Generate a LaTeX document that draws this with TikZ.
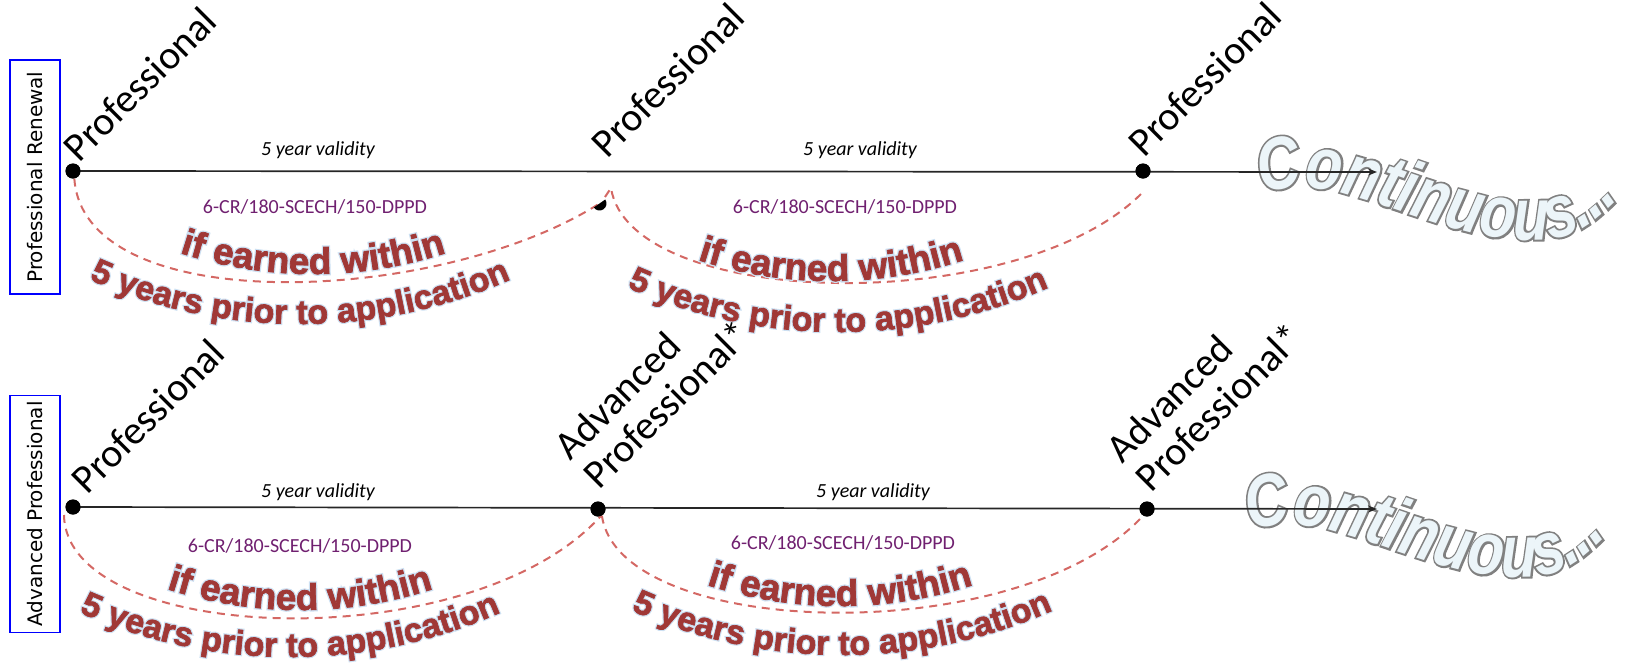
\documentclass[tikz,border=0pt]{standalone}
\usepackage{fontspec}
\setmainfont{Carlito}
\newfontfamily\boxfont{DejaVu Sans}
\newfontfamily\wafont[FakeBold=2]{Liberation Sans Bold}
\newfontfamily\waglow[FakeBold=9]{Liberation Sans Bold}
\newfontfamily\confont[FakeStretch=0.8]{Liberation Sans Bold Italic}
\newfontfamily\conout[FakeStretch=0.8,FakeBold=5]{Liberation Sans Bold Italic}
\usetikzlibrary{decorations.text,arrows.meta,calc}
\definecolor{wared}{RGB}{160,56,54}
\definecolor{glow}{RGB}{205,224,242}
\definecolor{dashred}{RGB}{212,104,100}
\definecolor{purp}{RGB}{112,32,112}
\definecolor{congray}{RGB}{128,128,128}
\definecolor{conlight}{RGB}{236,245,249}
% #1 x, #2 y of arc bottom, #3 radius, #4 half angle, #5 font size, #6 text
\newcommand\arctext[6]{%
  \path[decorate,decoration={text along path,text align=center,
    text={|\waglow\fontsize{#5}{40}\selectfont\color{glow}|#6}}]
    (#1,#2) ++(0,-#3) ++({90+#4}:#3) arc[start angle={90+#4},end angle={90-#4},radius=#3];
  \path[decorate,decoration={text along path,text align=center,
    text={|\wafont\fontsize{#5}{40}\selectfont\color{wared}|#6}}]
    (#1,#2) ++(0,-#3) ++({90+#4}:#3) arc[start angle={90+#4},end angle={90-#4},radius=#3];
}
\newcommand\conttext{%
  \path[decorate,decoration={text along path,
    text={|\conout\fontsize{74}{80}\selectfont\color{congray}|Continuous...}}]
    (1262,195) .. controls (1335,160) and (1445,254) .. (1555,238)
    .. controls (1592,232) and (1612,206) .. (1660,156);
  \path[decorate,decoration={text along path,
    text={|\confont\fontsize{74}{80}\selectfont\color{conlight}|Continuous...}}]
    (1262,195) .. controls (1335,160) and (1445,254) .. (1555,238)
    .. controls (1592,232) and (1612,206) .. (1660,156);
}
\begin{document}
\begin{tikzpicture}[x=1pt,y=-1pt,
  dotnode/.style={circle,fill=black,inner sep=0pt,minimum size=15pt},
  lbl/.style={rotate=45,anchor=south west,inner sep=0pt,font=\fontsize{40}{41}\selectfont,align=left},
  valid/.style={inner sep=0pt,font=\itshape\fontsize{20}{24}\selectfont},
  credit/.style={inner sep=0pt,text=purp,font=\fontsize{20}{24}\selectfont},
  dashc/.style={draw=dashred,line width=2pt,dash pattern=on 8pt off 6pt},
  timeline/.style={draw=black!85,line width=1.7pt,-{Stealth[length=9pt,width=7pt]}},
  rowbox/.style={draw=blue,line width=1.5pt,rotate=90,inner sep=0pt,
    font=\boxfont\fontsize{20}{24}\selectfont,minimum height=50pt}
]
\useasboundingbox (0,0) rectangle (1631,665);

% ---------- row boxes ----------
\node[rowbox,minimum width=234pt] (box1) at (35,177) {Professional Renewal};
\node[rowbox,minimum width=237pt] (box2) at (35,514) {Advanced Professional};

% ---------- positions ----------
\coordinate (blob) at (599.5,203.5);
\coordinate (e1) at (1377,172);
\coordinate (e2) at (1377,509);
\coordinate (bs) at (605,197);
\coordinate (bt) at (611,188);
\coordinate (be) at (1143,192);
\coordinate (cs) at (64,515);

\node[dotnode] (d1) at (73,171) {};
\node[dotnode] (d3) at (1143,171) {};
\node[dotnode] (d4) at (73,507) {};
\node[dotnode] (d5) at (598,509) {};
\node[dotnode] (d6) at (1147,509) {};

% ---------- dashed curves ----------
\draw[dashc] (d1.-80) .. controls (84,320) and (440,305) .. (blob);
\draw[dashc] (bs) -- (bt) .. controls (630,310) and (1020,318) .. (be);
\draw[dashc] (cs) .. controls (66,645) and (470,660) .. (d5.-70);
\draw[dashc] (d5.-60) .. controls (620,640) and (1020,650) .. (d6.-120);

% ---------- curved red texts ----------
\arctext{313}{274}{430}{25}{37}{if earned within}
\arctext{300}{324}{520}{30}{34}{5 years prior to application}
\arctext{831}{281}{430}{25}{37}{if earned within}
\arctext{838}{332}{520}{30}{34}{5 years prior to application}
\arctext{300}{610}{430}{25}{37}{if earned within}
\arctext{290}{657}{520}{30}{34}{5 years prior to application}
\arctext{840}{606}{430}{25}{37}{if earned within}
\arctext{842}{655}{520}{30}{34}{5 years prior to application}

% ---------- continuous ----------
\conttext
\begin{scope}[shift={(-12,337)}]
\conttext
\end{scope}

% ---------- timelines ----------
\draw[timeline] (d1.center) -- (e1);
\draw[timeline] (d4.center) -- (e2);
\node[dotnode] at (d1) {};
\node[dotnode] at (d3) {};
\node[dotnode] at (d4) {};
\node[dotnode] at (d5) {};
\node[dotnode] at (d6) {};
\fill (blob) ++(-35:7) arc[start angle=-35,end angle=145,radius=7] -- cycle;

% ---------- labels ----------
\node[lbl] (l1) at (80,164) {Professional};
\node[lbl] (l2) at (608,160) {Professional};
\node[lbl] (l3) at (1145,159) {Professional};
\node[lbl] (l4) at (88,496) {Professional};
\node[lbl] (l5) at (600,491) {Advanced\\Professional*};
\node[lbl] (l6) at (1152,494) {Advanced\\Professional*};

\node[valid] (v1) at (318,150) {5 year validity};
\node[valid] (v2) at (860,150) {5 year validity};
\node[valid] (v3) at (318,492) {5 year validity};
\node[valid] (v4) at (873,492) {5 year validity};

\node[credit] (c1) at (315,207) {6-CR/180-SCECH/150-DPPD};
\node[credit] (c2) at (845,207) {6-CR/180-SCECH/150-DPPD};
\node[credit] (c3) at (300,546) {6-CR/180-SCECH/150-DPPD};
\node[credit] (c4) at (843,543) {6-CR/180-SCECH/150-DPPD};
\end{tikzpicture}
\end{document}
